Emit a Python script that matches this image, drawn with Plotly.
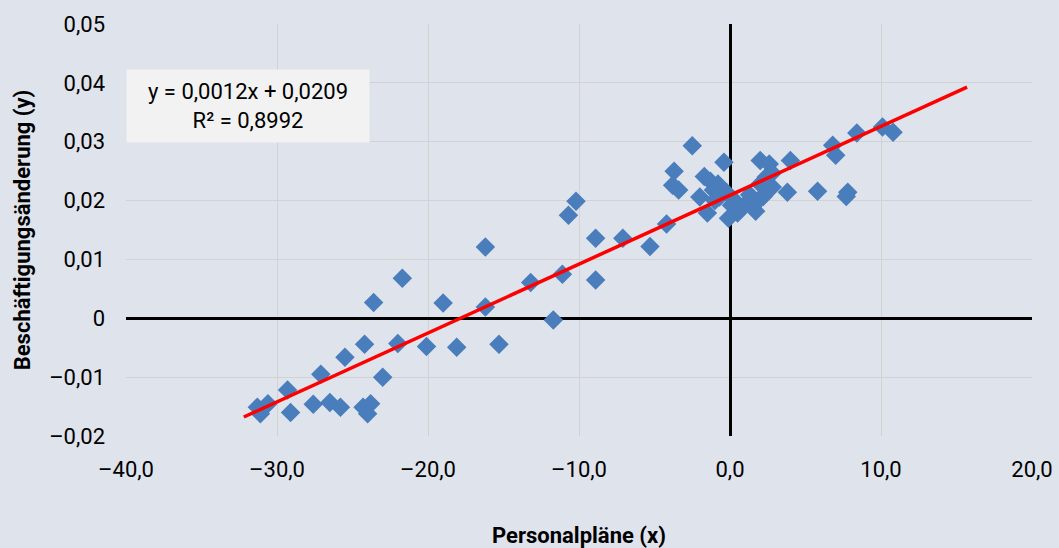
import plotly.graph_objects as go

# Data
personal_x = [-31.3, -30.6, -31.1, -29.3, -29.1, -27.6, -27.1, -26.5, -25.8, -25.5,
              -24.3, -24.2, -23.8, -24.0, -23.6, -23.0, -22.0, -21.7, -20.1, -19.0,
              -18.1, -16.2, -16.2, -15.3, -13.2, -11.1, -11.7, -10.7, -10.2, -8.9,
              -8.9, -7.1, -5.3, -4.2, -3.8, -3.7, -3.4, -2.5, -1.7, -2.0,
              -1.5, -1.3, -1.1, -0.8, -0.7, -0.4, -0.2, 0.1, 0.5, -0.1,
              0.7, 1.1, 1.5, 1.7, 1.9, 2.0, 2.2, 2.4, 2.0, 2.6,
              2.8, 2.8, 4.0, 3.8, 5.8, 7.8, 7.7, 6.8, 7.0, 8.4,
              10.1, 10.8, 0.3, 1.3, -1.0, 2.3]
beschaeft_y = [-0.0151, -0.0145, -0.0162, -0.0122, -0.0160, -0.0146, -0.0095, -0.0143, -0.0151, -0.0066,
               -0.0151, -0.0044, -0.0145, -0.0162, 0.0027, -0.0100, -0.0043, 0.0068, -0.0048, 0.0026,
               -0.0049, 0.0121, 0.0019, -0.0044, 0.0061, 0.0075, -0.0003, 0.0175, 0.0199, 0.0136,
               0.0065, 0.0136, 0.0122, 0.0160, 0.0226, 0.0250, 0.0218, 0.0293, 0.0241, 0.0206,
               0.0179, 0.0233, 0.0218, 0.0228, 0.0206, 0.0265, 0.0213, 0.0192, 0.0179, 0.0170,
               0.0187, 0.0196, 0.0190, 0.0182, 0.0201, 0.0228, 0.0207, 0.0240, 0.0268, 0.0262,
               0.0247, 0.0223, 0.0268, 0.0214, 0.0216, 0.0214, 0.0207, 0.0294, 0.0277, 0.0315,
               0.0325, 0.0316, 0.0200, 0.0210, 0.0200, 0.0230]

trend_slope = 0.00117
trend_intercept = 0.0209
trend_x = [-32.2, 15.7]
trend_y = [trend_slope * v + trend_intercept for v in trend_x]

x_tickvals = [-40, -30, -20, -10, 0, 10, 20]
x_ticktext = ["\u201340,0", "\u201330,0", "\u201320,0", "\u201310,0", "0,0", "10,0", "20,0"]
y_tickvals = [-0.02, -0.01, 0, 0.01, 0.02, 0.03, 0.04, 0.05]
y_ticktext = ["\u20130,02", "\u20130,01", "0", "0,01", "0,02", "0,03", "0,04", "0,05"]

equation_text = "y = 0,0012x + 0,0209<br>R\u00b2 = 0,8992"

bg = "#dfe3ec"
font_family = "Roboto, 'Open Sans', sans-serif"

fig = go.Figure()
fig.add_trace(go.Scatter(
    x=personal_x, y=beschaeft_y, mode="markers",
    marker=dict(symbol="diamond", size=15, color="#4a7dbb", line=dict(width=0)),
    showlegend=False, hoverinfo="skip",
))
fig.add_trace(go.Scatter(
    x=trend_x, y=trend_y, mode="lines",
    line=dict(color="#ff0000", width=3.5),
    showlegend=False, hoverinfo="skip",
))

fig.update_layout(
    width=1059, height=548,
    margin=dict(l=126, r=27, t=24, b=112),
    paper_bgcolor=bg, plot_bgcolor=bg,
    font=dict(family=font_family, size=22, color="#000000"),
    xaxis=dict(
        range=[-40, 20], tickvals=x_tickvals, ticktext=x_ticktext,
        showgrid=True, gridcolor="#d2d2d2", gridwidth=1,
        zeroline=True, zerolinecolor="#000000", zerolinewidth=3,
        showline=False, ticks="", ticklabelstandoff=18, automargin=False,
        title=dict(text="<b>Personalpl\u00e4ne (x)</b>", standoff=46,
                   font=dict(size=22, family=font_family)),
    ),
    yaxis=dict(
        range=[-0.02, 0.05], tickvals=y_tickvals, ticktext=y_ticktext,
        showgrid=True, gridcolor="#d2d2d2", gridwidth=1,
        zeroline=True, zerolinecolor="#000000", zerolinewidth=3,
        showline=False, ticks="", ticklabelstandoff=20, automargin=False,
        title=dict(text="<b>Besch\u00e4ftigungs\u00e4nderung (y)</b>", standoff=12,
                   font=dict(size=22, family=font_family)),
    ),
    annotations=[dict(
        text=equation_text, xref="paper", yref="y", x=0.0, y=0.0423,
        xanchor="left", yanchor="top", showarrow=False, align="center",
        bgcolor="#f2f2f2", borderpad=8, width=226, height=56,
        font=dict(size=22, family=font_family, color="#000000"),
    )],
)

fig.write_html("out.html", config={"displayModeBar": False},
               post_script="document.body.style.margin='0';")
